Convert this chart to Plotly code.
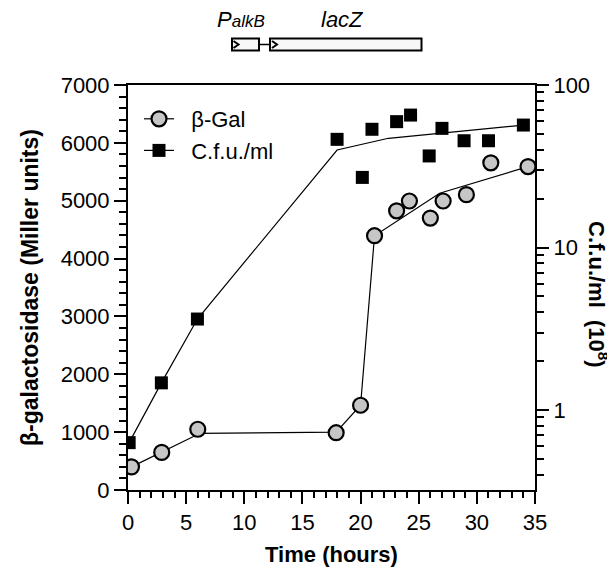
import plotly.graph_objects as go

# ---------------- data ----------------
time_gal = [0.3, 2.9, 6.0, 17.9, 20.0, 21.2, 23.1, 24.2, 26.0, 27.1, 29.1, 31.2, 34.4]
gal = [400, 650, 1050, 990, 1465, 4395, 4825, 4995, 4700, 4995, 5105, 5655, 5590]

gal_fit_time = [0.3, 2.9, 6.2, 17.9, 20.0, 21.2, 26.8, 34.4]
gal_fit = [400, 650, 980, 1000, 1465, 4395, 5130, 5590]

time_cfu = [0.1, 2.87, 5.97, 17.98, 20.15, 20.98, 23.1, 24.3, 25.9, 27.0, 28.9, 31.0, 34.0]
cfu = [0.63, 1.47, 3.63, 46.3, 27.0, 53.4, 59.5, 65.3, 36.6, 54.1, 45.4, 45.4, 56.7]

cfu_fit_time = [0.1, 2.87, 5.97, 17.98, 22.4, 34.0]
cfu_fit = [0.63, 1.47, 3.63, 39.8, 47.0, 56.7]

x_ticks = [0, 5, 10, 15, 20, 25, 30, 35]
y_ticks = [0, 1000, 2000, 3000, 4000, 5000, 6000, 7000]
y2_ticks = [1, 10, 100]

x_minor = [h for h in range(0, 36) if h not in x_ticks]
y_minor = [v for v in range(0, 7001, 200) if v not in y_ticks]
y2_minor = [m * d for d in (0.1, 1, 10) for m in range(2, 10)]

FONT = "Liberation Sans, Arial, Helvetica, sans-serif"
GRAY = "#c6c6c6"

# ---------------- geometry (page body has an 8px margin) ----------------
OFF = 8
W, H = 615 - OFF, 567 - OFF
L, T = 128 - OFF, 85 - OFF
R, B = W - (535 - OFF), H - (490 - OFF)
PW, PH = W - L - R, H - T - B


def px(x):
    """screen pixel x -> paper x"""
    return (x - OFF - L) / PW


def py(y):
    """screen pixel y -> paper y"""
    return (H - B - (y - OFF)) / PH


fig = go.Figure()

# trend lines
fig.add_trace(go.Scatter(x=gal_fit_time, y=gal_fit, mode="lines",
                         line=dict(color="black", width=1.2), showlegend=False,
                         hoverinfo="skip"))
fig.add_trace(go.Scatter(x=cfu_fit_time, y=cfu_fit, mode="lines", yaxis="y2",
                         line=dict(color="black", width=1.2), showlegend=False,
                         hoverinfo="skip"))

# markers
fig.add_trace(go.Scatter(x=time_gal, y=gal, mode="markers", showlegend=False,
                         marker=dict(symbol="circle", size=15, color=GRAY,
                                     line=dict(color="black", width=2.2))))
fig.add_trace(go.Scatter(x=time_cfu, y=cfu, mode="markers", yaxis="y2", showlegend=False,
                         marker=dict(symbol="square", size=13, color="black",
                                     line=dict(color="black", width=0))))

# legend entries
fig.add_trace(go.Scatter(x=[None], y=[None], mode="lines+markers", name="\u00a0\u00a0β-Gal",
                         line=dict(color="black", width=1.2),
                         marker=dict(symbol="circle", size=15, color=GRAY,
                                     line=dict(color="black", width=2.2))))
fig.add_trace(go.Scatter(x=[None], y=[None], mode="lines+markers", name="\u00a0\u00a0C.f.u./ml",
                         line=dict(color="black", width=1.2),
                         marker=dict(symbol="square", size=13, color="black")))

axis_common = dict(showgrid=False, zeroline=False, showline=True, linecolor="black",
                   linewidth=2, ticks="outside", tickcolor="black", tickwidth=2,
                   automargin=False,
                   tickfont=dict(family=FONT, size=22, color="black"))


def minor(vals, length):
    return dict(tickmode="array", tickvals=vals, ticklen=length, tickwidth=1.5,
                ticks="outside", tickcolor="black", showgrid=False)


fig.update_layout(
    width=W, height=H,
    margin=dict(l=L, r=R, t=T, b=B, autoexpand=False),
    paper_bgcolor="white", plot_bgcolor="white",
    font=dict(family=FONT, color="black"),
    xaxis=dict(range=[0, 35], tickvals=x_ticks, ticklen=12, mirror=True,
               minor=minor(x_minor, 6),
               title=dict(text="<b>Time (hours)</b>", font=dict(family=FONT, size=22),
                          standoff=21),
               **axis_common),
    yaxis=dict(range=[0, 7000], tickvals=y_ticks, ticklen=12,
               minor=minor(y_minor, 7),
               title=dict(text="<b>β-galactosidase (Miller units)</b>",
                          font=dict(family=FONT, size=23), standoff=16),
               **axis_common),
    yaxis2=dict(type="log", range=[-0.492, 2], overlaying="y", side="right",
                tickvals=y2_ticks, ticktext=[str(v) for v in y2_ticks], ticklen=12,
                minor=minor(y2_minor, 7),
                **axis_common),
    legend=dict(x=px(139), y=py(98), xanchor="left", yanchor="top",
                font=dict(family=FONT, size=22, color="black"),
                bgcolor="rgba(0,0,0,0)", tracegroupgap=0, itemwidth=30),
)

# right axis title (reads top to bottom)
fig.add_annotation(text="<b>C.f.u./ml\u00a0\u00a0(10<sup>8</sup>)</b>", xref="paper", yref="paper",
                   x=px(598), y=py(294), xanchor="center", yanchor="middle",
                   textangle=90, showarrow=False,
                   font=dict(family=FONT, size=22, color="black"))

# ---------------- construct schematic ----------------
box_style = dict(type="rect", xref="paper", yref="paper",
                 line=dict(color="black", width=2), fillcolor="#f7f7f7")
fig.add_shape(x0=px(232), x1=px(259), y0=py(50.5), y1=py(38.5), **box_style)
fig.add_shape(x0=px(270), x1=px(421.5), y0=py(50.5), y1=py(38.5), **box_style)
fig.add_shape(type="line", xref="paper", yref="paper", x0=px(259), x1=px(270),
              y0=py(44.5), y1=py(44.5), line=dict(color="black", width=1.5))
for x0 in (233.5, 272):
    fig.add_shape(type="path", xref="paper", yref="paper",
                  path=f"M {px(x0)},{py(41)} L {px(x0 + 5)},{py(44.5)} L {px(x0)},{py(48)}",
                  line=dict(color="black", width=2))

fig.add_annotation(text="<i>P<span style='font-size:17px'>alkB</span></i>",
                   xref="paper", yref="paper", x=px(215), y=py(20), xanchor="left",
                   yanchor="middle", showarrow=False,
                   font=dict(family=FONT, size=22, color="black"))
fig.add_annotation(text="<i>lacZ</i>",
                   xref="paper", yref="paper", x=px(342), y=py(20), xanchor="center",
                   yanchor="middle", showarrow=False,
                   font=dict(family=FONT, size=22, color="black"))

fig.write_html("out.html")
